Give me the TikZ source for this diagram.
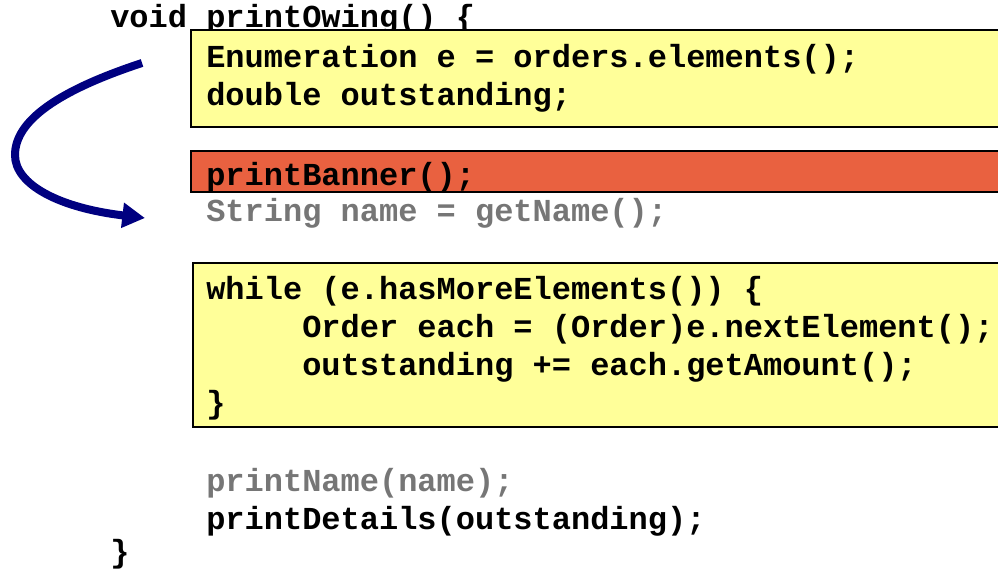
\documentclass[tikz,border=0pt]{standalone}
\usepackage{fontspec}
\newfontfamily\codefont{Liberation Mono}
\usetikzlibrary{arrows.meta}
\definecolor{noteyellow}{RGB}{255,255,153}
\definecolor{bannerred}{RGB}{233,97,64}
\definecolor{fadedgray}{RGB}{118,118,118}
\definecolor{arrowblue}{RGB}{0,0,128}

\begin{document}
\frenchspacing
\begin{tikzpicture}[x=0.75pt, y=-0.75pt,
    code line/.style={anchor=base west, inner sep=0pt, font=\codefont\bfseries\fontsize{24}{28}\selectfont},
    faded line/.style={code line, text=fadedgray},
    yellow box/.style={fill=noteyellow, draw=black, line width=1.5pt},
    red box/.style={fill=bannerred, draw=black, line width=1.5pt},
    move arrow/.style={draw=arrowblue, line width=6pt, -{Triangle[length=17pt,width=18pt]}}]

    \useasboundingbox (0,0) rectangle (998,570);
    \clip (0,0) rectangle (998,570);

    \node[code line] at (110, 28) (head) {void printOwing() \{};

    \draw[yellow box] (191, 30) rectangle (1010, 127);
    \node[code line] at (206, 68) (enum) {Enumeration e = orders.elements();};
    \node[code line] at (206, 106) (outst) {double outstanding;};

    \draw[red box] (191, 151) rectangle (1010, 192);
    \node[code line] at (206, 186) (banner) {printBanner();};
    \node[faded line] at (206, 222) (getname) {String name = getName();};

    \draw[yellow box] (193, 263) rectangle (1010, 427);
    \node[code line] at (206, 299) (while) {while (e.hasMoreElements()) \{};
    \node[code line] at (302, 337) (order) {Order each = (Order)e.nextElement();};
    \node[code line] at (302, 375) (amount) {outstanding += each.getAmount();};
    \node[code line] at (206, 413) (endwhile) {\}};

    \node[faded line] at (206, 491) (printname) {printName(name);};
    \node[code line] at (206, 529) (details) {printDetails(outstanding);};
    \node[code line] at (110, 562) (endfun) {\}};

    \coordinate (from) at (142, 63);
    \coordinate (to) at (145, 218);
    \draw[move arrow] (from) .. controls (60, 90) and (15, 120) .. (15, 155)
        .. controls (15, 185) and (60, 208) .. (to);
\end{tikzpicture}
\end{document}
